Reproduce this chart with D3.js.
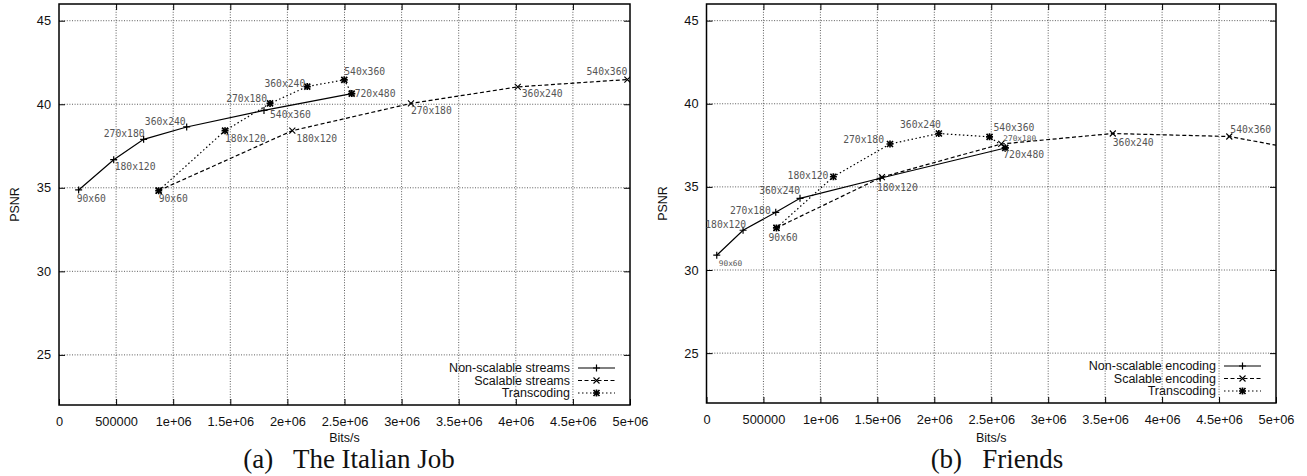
<!DOCTYPE html>
<html>
<head>
<meta charset="utf-8">
<script src="https://cdn.jsdelivr.net/npm/d3@7"></script>
<style>
  body { margin: 0; background: #fff; }
  svg { display: block; }
  .tick-label { font-family: "Liberation Sans", Arial, sans-serif; font-size: 12.8px; fill: #111; }
  .axis-title { font-family: "Liberation Sans", Arial, sans-serif; font-size: 12.5px; fill: #111; }
  .pt-label { font-family: "DejaVu Sans Mono", monospace; fill: #555; }
  .legend-text { font-family: "Liberation Sans", Arial, sans-serif; font-size: 12.5px; fill: #111; }
  .caption { font-family: "Liberation Serif", "Times New Roman", serif; font-size: 27px; fill: #111; white-space: pre; }
</style>
</head>
<body>
<div id="chart"></div>
<script>
var width = 1307,
    height = 476;

// axis ticks shared by both panels
var xTickValues = [0, 500000, 1000000, 1500000, 2000000, 2500000, 3000000, 3500000, 4000000, 4500000, 5000000];
var xTickLabels = ["0", "500000", "1e+06", "1.5e+06", "2e+06", "2.5e+06", "3e+06", "3.5e+06", "4e+06", "4.5e+06", "5e+06"];
var yTickValues = [25, 30, 35, 40, 45];

// (a) The Italian Job
var italianNonScalableBits = [172000, 479000, 741000, 1118000, 1795000, 2563000];
var italianNonScalablePsnr = [34.87, 36.68, 37.90, 38.64, 39.63, 40.64];
var italianNonScalableRes = ["90x60", "180x120", "270x180", "360x240", "540x360", "720x480"];

var italianScalableBits = [873000, 2043000, 3082000, 4017000, 4977000];
var italianScalablePsnr = [34.83, 38.42, 40.05, 41.04, 41.48];
var italianScalableRes = ["90x60", "180x120", "270x180", "360x240", "540x360"];

// first and last points share their label with the other series
var italianTranscodingBits = [873000, 1454000, 1848000, 2174000, 2498000, 2563000];
var italianTranscodingPsnr = [34.83, 38.42, 40.05, 41.06, 41.46, 40.64];
var italianTranscodingRes = ["", "180x120", "270x180", "360x240", "540x360", ""];

// (b) Friends
var friendsNonScalableBits = [90000, 321000, 608000, 821000, 1525000, 2623000];
var friendsNonScalablePsnr = [30.89, 32.39, 33.47, 34.31, 35.52, 37.34];
var friendsNonScalableRes = ["90x60", "180x120", "270x180", "360x240", "", "720x480"];

var friendsScalableBits = [614000, 1540000, 2588000, 3567000, 4590000, 5500000];
var friendsScalablePsnr = [32.53, 35.59, 37.58, 38.21, 38.03, 36.87];
var friendsScalableRes = ["90x60", "180x120", "270x180", "360x240", "540x360", ""];

var friendsTranscodingBits = [614000, 1114000, 1611000, 2040000, 2485000, 2623000];
var friendsTranscodingPsnr = [32.53, 35.61, 37.58, 38.21, 38.01, 37.34];
var friendsTranscodingRes = ["", "180x120", "270x180", "360x240", "540x360", ""];

// label placement next to each point: [dx, dy, anchor, font size]
var italianNonScalablePlace = [[-2, 8.5, "start", 9.7], [1, 7, "start", 9.7], [1, -6, "end", 9.7], [-1, -5, "end", 9.7], [6, 4, "start", 9.7], [3, 0, "start", 9.7]];
var italianScalablePlace = [[0, 8, "start", 9.7], [4, 8, "start", 9.7], [0, 7, "start", 9.7], [4, 7, "start", 9.7], [0, -8, "end", 9.7]];
var italianTranscodingPlace = [[0, 8, "start", 9.7], [0, 8, "start", 9.7], [-3, -5, "end", 9.7], [-2, -3, "end", 9.7], [0, -8, "start", 9.7], [3, 0, "start", 9.7]];
var friendsNonScalablePlace = [[2, 8, "start", 7.8], [3, -5.5, "end", 9.7], [-5, -1.5, "end", 9.7], [0, -7.5, "end", 9.7], [0, 0, "start", 9.7], [-2, 7, "start", 9.7]];
var friendsScalablePlace = [[-8, 10, "start", 9.7], [-5, 10.5, "start", 9.7], [2, -6, "start", 7.8], [0, 9.5, "start", 9.7], [1, -7, "start", 9.7], [0, 0, "start", 9.7]];
var friendsTranscodingPlace = [[-8, 10, "start", 9.7], [-5, -1.5, "end", 9.7], [-6, -4, "end", 9.7], [2, -8.5, "end", 9.7], [4, -9.5, "start", 9.7], [-2, 7, "start", 9.7]];

function zip(xs, ys, names) {
    return xs.map(function (x, i) { return { x: x, y: ys[i], name: names[i] }; });
}

var panels = [
    {
        left: 59, right: 630, top: 4, bottom: 405,
        caption: "(a)   The Italian Job", captionX: 349,
        series: [
            { name: "Non-scalable streams", data: zip(italianNonScalableBits, italianNonScalablePsnr, italianNonScalableRes), dash: null, marker: "plus", place: italianNonScalablePlace },
            { name: "Scalable streams", data: zip(italianScalableBits, italianScalablePsnr, italianScalableRes), dash: "4,2.5", marker: "cross", place: italianScalablePlace },
            { name: "Transcoding", data: zip(italianTranscodingBits, italianTranscodingPsnr, italianTranscodingRes), dash: "1.5,2.5", marker: "star", place: italianTranscodingPlace }
        ]
    },
    {
        left: 706.5, right: 1276, top: 4, bottom: 403,
        caption: "(b)   Friends", captionX: 997,
        series: [
            { name: "Non-scalable encoding", data: zip(friendsNonScalableBits, friendsNonScalablePsnr, friendsNonScalableRes), dash: null, marker: "plus", place: friendsNonScalablePlace },
            { name: "Scalable encoding", data: zip(friendsScalableBits, friendsScalablePsnr, friendsScalableRes), dash: "4,2.5", marker: "cross", place: friendsScalablePlace },
            { name: "Transcoding", data: zip(friendsTranscodingBits, friendsTranscodingPsnr, friendsTranscodingRes), dash: "1.5,2.5", marker: "star", place: friendsTranscodingPlace }
        ]
    }
];

var svg = d3.select("#chart").append("svg")
    .attr("width", width)
    .attr("height", height);

function drawMarker(g, type, cx, cy) {
    var a = 3.5, b = 3;
    if (type === "plus" || type === "star") {
        g.append("path")
            .attr("d", "M" + (cx - a) + "," + cy + "H" + (cx + a) + "M" + cx + "," + (cy - a) + "V" + (cy + a))
            .attr("stroke", "#000").attr("stroke-width", type === "star" ? 1.7 : 1.2);
    }
    if (type === "cross" || type === "star") {
        g.append("path")
            .attr("d", "M" + (cx - b) + "," + (cy - b) + "L" + (cx + b) + "," + (cy + b) + "M" + (cx - b) + "," + (cy + b) + "L" + (cx + b) + "," + (cy - b))
            .attr("stroke", "#000").attr("stroke-width", type === "star" ? 1.7 : 1.1);
    }
}

panels.forEach(function (p, pi) {
    var x = d3.scaleLinear().domain([0, 5000000]).range([p.left, p.right]);
    var y = d3.scaleLinear().domain([22, 46]).range([p.bottom, p.top]);

    var g = svg.append("g");

    // grid
    g.append("g").selectAll("line.vgrid")
        .data(xTickValues.slice(1, -1))
        .enter().append("line")
        .attr("x1", function (d) { return x(d); }).attr("x2", function (d) { return x(d); })
        .attr("y1", p.top).attr("y2", p.bottom)
        .attr("stroke", "#333").attr("stroke-width", 0.8).attr("stroke-dasharray", "1,1.6");
    g.append("g").selectAll("line.hgrid")
        .data(yTickValues)
        .enter().append("line")
        .attr("x1", p.left).attr("x2", p.right)
        .attr("y1", function (d) { return y(d); }).attr("y2", function (d) { return y(d); })
        .attr("stroke", "#333").attr("stroke-width", 0.8).attr("stroke-dasharray", "1,1.6");

    // axes: labels from d3 axes, ticks pointing inward on all sides
    var xAxis = d3.axisBottom(x).tickValues(xTickValues)
        .tickFormat(function (d, i) { return xTickLabels[i]; })
        .tickSizeInner(-6).tickSizeOuter(0).tickPadding(12);
    var xg = g.append("g").attr("transform", "translate(0," + p.bottom + ")").call(xAxis);
    xg.select(".domain").remove();
    xg.selectAll("text").attr("class", "tick-label").attr("font-size", null).attr("font-family", null);
    xg.selectAll("line").attr("stroke", "#000");

    var xTop = d3.axisTop(x).tickValues(xTickValues.slice(1, -1)).tickSizeInner(-6).tickSizeOuter(0).tickFormat("");
    g.append("g").attr("transform", "translate(0," + p.top + ")").call(xTop)
        .call(function (s) { s.select(".domain").remove(); s.selectAll("line").attr("stroke", "#000"); });

    var yAxis = d3.axisLeft(y).tickValues(yTickValues).tickSizeInner(-6).tickSizeOuter(0).tickPadding(8);
    var yg = g.append("g").attr("transform", "translate(" + p.left + ",0)").call(yAxis);
    yg.select(".domain").remove();
    yg.selectAll("text").attr("class", "tick-label").attr("font-size", null).attr("font-family", null);
    yg.selectAll("line").attr("stroke", "#000");

    var yRight = d3.axisRight(y).tickValues(yTickValues).tickSizeInner(-6).tickSizeOuter(0).tickFormat("");
    g.append("g").attr("transform", "translate(" + p.right + ",0)").call(yRight)
        .call(function (s) { s.select(".domain").remove(); s.selectAll("line").attr("stroke", "#000"); });

    // border
    g.append("rect")
        .attr("x", p.left).attr("y", p.top)
        .attr("width", p.right - p.left).attr("height", p.bottom - p.top)
        .attr("fill", "none").attr("stroke", "#000").attr("stroke-width", 1.5);

    // axis titles
    g.append("text").attr("class", "axis-title")
        .attr("transform", "translate(" + (p.left - 44) + "," + ((p.top + p.bottom) / 2) + ") rotate(-90)")
        .attr("text-anchor", "middle").attr("dy", "0.35em")
        .text("PSNR");
    g.append("text").attr("class", "axis-title")
        .attr("x", (p.left + p.right) / 2).attr("y", 438)
        .attr("text-anchor", "middle").attr("dy", "0.35em")
        .text("Bits/s");
    g.append("text").attr("class", "caption")
        .attr("x", p.captionX).attr("y", 468)
        .attr("text-anchor", "middle")
        .text(p.caption);

    // data
    var clipId = "clip" + pi;
    svg.append("clipPath").attr("id", clipId).append("rect")
        .attr("x", p.left).attr("y", p.top)
        .attr("width", p.right - p.left).attr("height", p.bottom - p.top);

    var line = d3.line().x(function (d) { return x(d.x); }).y(function (d) { return y(d.y); });
    var plot = g.append("g").attr("clip-path", "url(#" + clipId + ")");

    p.series.forEach(function (s) {
        plot.append("path")
            .datum(s.data)
            .attr("d", line)
            .attr("fill", "none")
            .attr("stroke", "#000")
            .attr("stroke-width", 1.2)
            .attr("stroke-dasharray", s.dash);
        s.data.forEach(function (d) {
            drawMarker(plot, s.marker, x(d.x), y(d.y));
        });
    });

    p.series.forEach(function (s) {
        g.append("g").selectAll("text")
            .data(s.data.filter(function (d) { return d.x <= 5000000; }))
            .enter().append("text")
            .attr("class", "pt-label")
            .attr("x", function (d, i) { return x(d.x) + s.place[i][0]; })
            .attr("y", function (d, i) { return y(d.y) + s.place[i][1]; })
            .attr("dy", "0.35em")
            .attr("text-anchor", function (d, i) { return s.place[i][2]; })
            .attr("font-size", function (d, i) { return s.place[i][3]; })
            .text(function (d) { return d.name; });
    });

    // legend
    var lg = g.append("g");
    p.series.forEach(function (s, i) {
        var ly = p.bottom - 37 + i * 12.5;
        lg.append("text").attr("class", "legend-text")
            .attr("x", p.right - 60).attr("y", ly).attr("dy", "0.35em")
            .attr("text-anchor", "end")
            .text(s.name);
        lg.append("line")
            .attr("x1", p.right - 52).attr("x2", p.right - 15)
            .attr("y1", ly).attr("y2", ly)
            .attr("stroke", "#000").attr("stroke-width", 1.2)
            .attr("stroke-dasharray", s.dash);
        drawMarker(lg, s.marker, p.right - 33.5, ly);
    });
});
</script>
</body>
</html>
